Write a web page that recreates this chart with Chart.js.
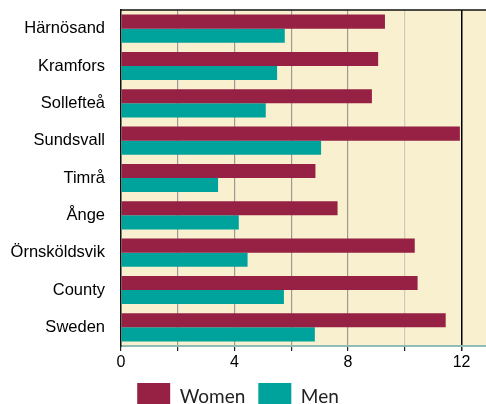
<!DOCTYPE html>
<html>
<head>
<meta charset="utf-8">
<script src="https://cdn.jsdelivr.net/npm/chart.js@4/dist/chart.umd.min.js"></script>
<style>
    html, body { margin: 0; padding: 0; background: #fff; overflow: hidden; }
    #wrap { position: relative; width: 486px; height: 420px; }
</style>
</head>
<body>
<div id="wrap"><canvas id="rateChart"></canvas></div>
<script>
const municipalities = ['Härnösand', 'Kramfors', 'Sollefteå', 'Sundsvall', 'Timrå', 'Ånge', 'Örnsköldsvik', 'County', 'Sweden'];
const women = [9.3, 9.06, 8.84, 11.94, 6.85, 7.63, 10.35, 10.45, 11.44];
const men = [5.77, 5.5, 5.1, 7.05, 3.42, 4.15, 4.46, 5.74, 6.83];
const labelledTicks = [0, 4, 8, 12];

const WOMEN_COLOR = '#962145';
const MEN_COLOR = '#00a39c';

// cream plot background + dark top rule, legend nudged a bit left
const plotFrame = {
    id: 'plotFrame',
    afterLayout(chart) {
        if (chart.legend) {
            chart.legend.left -= 5;
            chart.legend.right -= 5;
        }
    },
    beforeDraw(chart) {
        const { ctx, chartArea: a } = chart;
        ctx.save();
        ctx.fillStyle = '#f9f0d0';
        ctx.fillRect(a.left, a.top, a.right - a.left, a.bottom - a.top);
        ctx.restore();
    },
    afterDraw(chart) {
        const { ctx, chartArea: a } = chart;
        ctx.save();
        ctx.strokeStyle = '#111';
        ctx.lineWidth = 1.5;
        ctx.beginPath();
        ctx.moveTo(a.left, a.top);
        ctx.lineTo(a.right, a.top);
        ctx.stroke();
        ctx.restore();
    }
};

const gridColor = (v) => {
    if (v === 12) return '#000';
    if (v === 10) return '#cfcac0';
    if (v === 0) return 'rgba(0,0,0,0)';
    return '#9c9a92';
};

new Chart(document.getElementById('rateChart'), {
    type: 'bar',
    data: {
        labels: municipalities,
        datasets: [
            { label: 'Women', data: women, backgroundColor: WOMEN_COLOR, borderWidth: 0 },
            { label: 'Men', data: men, backgroundColor: MEN_COLOR, borderWidth: 0 }
        ]
    },
    options: {
        indexAxis: 'y',
        responsive: true,
        maintainAspectRatio: false,
        animation: false,
        layout: { padding: { top: 10, right: 0, left: 0, bottom: 0 } },
        datasets: { bar: { categoryPercentage: 0.753, barPercentage: 1 } },
        scales: {
            x: {
                min: 0,
                max: 12.86,
                afterFit(scale) {
                    scale.height = 24;
                    scale.paddingRight = 0;
                },
                ticks: {
                    stepSize: 2,
                    includeBounds: false,
                    autoSkip: false,
                    maxRotation: 0,
                    padding: 2,
                    color: '#000',
                    font: { family: 'Liberation Sans, Arial, sans-serif', size: 16 },
                    callback: (v) => (labelledTicks.includes(v) ? String(v) : '')
                },
                grid: {
                    color: (ctx) => gridColor(ctx.tick ? ctx.tick.value : -1),
                    lineWidth: (ctx) => (ctx.tick && ctx.tick.value === 12 ? 1.5 : 1.2),
                    tickColor: '#222',
                    tickLength: 5,
                    drawOnChartArea: true
                },
                border: { display: true, color: '#8fbdb5', width: 2 }
            },
            y: {
                afterFit(scale) {
                    scale.width = 121;
                    scale.paddingTop = 0;
                    scale.paddingBottom = 0;
                },
                ticks: {
                    padding: 16,
                    color: '#000',
                    font: { family: 'Liberation Sans, Arial, sans-serif', size: 16.5 }
                },
                grid: { display: false, drawTicks: false },
                border: { display: true, color: '#111', width: 1.5 }
            }
        },
        plugins: {
            legend: {
                position: 'bottom',
                labels: {
                    boxWidth: 33,
                    boxHeight: 27,
                    padding: 13,
                    color: '#222',
                    font: { family: 'Lato, sans-serif', size: 19 }
                }
            },
            tooltip: { enabled: false }
        }
    },
    plugins: [plotFrame]
});
</script>
</body>
</html>
